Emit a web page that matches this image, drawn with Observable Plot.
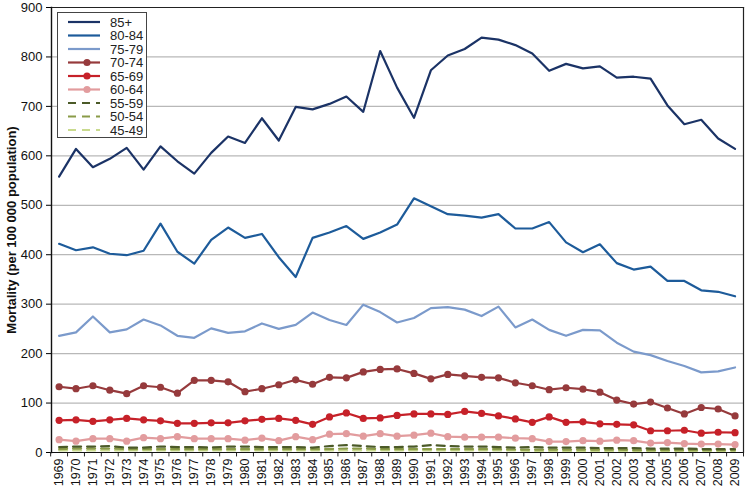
<!DOCTYPE html>
<html>
<head>
<meta charset="utf-8">
<script src="https://cdn.jsdelivr.net/npm/d3@7"></script>
<script src="https://cdn.jsdelivr.net/npm/@observablehq/plot@0.6"></script>
<style>
  html, body { margin: 0; padding: 0; background: #fff; }
  #wrap { position: relative; width: 746px; height: 487px; font-family: "Liberation Sans", Arial, sans-serif; }
  #legend { position: absolute; left: 0; top: 0; pointer-events: none; }
  g[aria-label="y-axis label"] text { font-weight: bold; }
</style>
</head>
<body>
<div id="wrap"></div>
<script>
const years = d3.range(1969, 2010);
const groups = ["85+", "80-84", "75-79", "70-74", "65-69", "60-64", "55-59", "50-54", "45-49"];
const colors = ["#1b3366", "#1d5b9a", "#7b9acb", "#963a3c", "#c62129", "#e29c9e", "#4b5a28", "#8a9b48", "#c9da8e"];
const markers = [false, false, false, true, true, true, false, false, false];
const dashed = [false, false, false, false, false, false, true, true, true];

const v85 = [558, 614, 577, 594, 616, 572, 619, 589, 564, 606, 639, 626, 676, 631, 699, 694, 705, 720, 689, 812, 738, 677, 773, 803, 816, 839, 835, 824, 807, 772, 786, 777, 781, 758, 760, 756, 702, 664, 673, 635, 614];
const v80 = [422, 409, 415, 402, 399, 408, 463, 406, 382, 430, 455, 434, 442, 395, 355, 434, 445, 458, 432, 445, 461, 514, 498, 482, 479, 475, 482, 453, 453, 466, 425, 405, 421, 383, 370, 376, 347, 347, 328, 325, 316];
const v75 = [236, 243, 275, 243, 249, 269, 257, 236, 232, 251, 242, 245, 261, 250, 258, 283, 268, 258, 299, 284, 263, 272, 292, 294, 289, 276, 295, 253, 269, 248, 236, 248, 247, 222, 204, 197, 185, 175, 162, 164, 172];
const v70 = [133, 129, 135, 126, 119, 135, 132, 120, 146, 146, 143, 123, 129, 137, 147, 138, 152, 151, 163, 168, 169, 160, 149, 158, 155, 152, 151, 141, 135, 127, 131, 128, 122, 106, 98, 102, 90, 78, 91, 88, 74];
const v65 = [65, 66, 63, 66, 69, 66, 64, 59, 59, 60, 60, 64, 67, 69, 65, 57, 72, 80, 69, 70, 75, 78, 78, 77, 83, 79, 74, 68, 61, 72, 61, 62, 58, 57, 56, 44, 44, 45, 39, 41, 40];
const v60 = [26, 23, 28, 28, 23, 30, 28, 32, 28, 28, 28, 25, 29, 24, 32, 26, 37, 38, 33, 38, 33, 35, 39, 32, 31, 31, 31, 29, 28, 22, 22, 24, 23, 25, 24, 19, 20, 18, 17, 17, 16];
const v55 = [11, 12, 12, 13, 10, 10, 12, 11, 11, 10, 12, 12, 11, 11, 11, 10, 13, 15, 13, 11, 11, 12, 15, 13, 12, 12, 11, 10, 11, 10, 10, 10, 9, 9, 9, 8, 8, 8, 7, 7, 7];
const v50 = [7, 8, 8, 8, 7, 7, 7, 7, 7, 7, 7, 7, 7, 7, 7, 7, 7, 8, 8, 7, 7, 7, 7, 7, 7, 7, 7, 6, 6, 6, 6, 6, 6, 6, 5, 5, 5, 5, 5, 5, 5];
const v45 = [4, 4, 4, 4, 4, 4, 4, 4, 4, 4, 4, 4, 4, 4, 4, 4, 4, 4, 4, 4, 4, 4, 4, 4, 4, 4, 4, 4, 3, 3, 3, 3, 3, 3, 3, 3, 3, 3, 3, 3, 3];
const series = [v85, v80, v75, v70, v65, v60, v55, v50, v45];
const yTicks = [0, 100, 200, 300, 400, 500, 600, 700, 800, 900];

const rows = [];
groups.forEach((g, i) => series[i].forEach((v, j) => rows.push({group: g, year: years[j], value: v, idx: i})));

const marks = [
  Plot.gridY(yTicks, {stroke: "#b8b8b8", strokeOpacity: 1, strokeWidth: 1.2}),
  Plot.axisY(yTicks, {tickSize: 5, tickPadding: 4, fontSize: 13, fill: "#111",
    label: "Mortality (per 100 000 population)", labelAnchor: "center", labelArrow: "none", labelOffset: 45}),
  Plot.axisX(years, {tickSize: 0, tickRotate: -90, tickPadding: 6, fontSize: 12.5, fill: "#111", tickFormat: d => String(d), label: null}),
  Plot.ruleX(d3.range(1968.5, 2010, 1), {x: d => d, y1: 0, y2: -9, stroke: "#222"}),
  Plot.ruleY([0], {stroke: "#111", strokeWidth: 1.2}),
  Plot.frame({stroke: "#222", strokeWidth: 1.2, anchor: "top"}),
  Plot.frame({stroke: "#222", strokeWidth: 1.2, anchor: "right"}),
  Plot.frame({stroke: "#111", strokeWidth: 1.4, anchor: "left"})
];
for (let i = groups.length - 1; i >= 0; i--) {
  const data = rows.filter(r => r.idx === i);
  marks.push(Plot.line(data, {x: "year", y: "value", stroke: colors[i], strokeWidth: 2.2,
    strokeDasharray: dashed[i] ? "8,6" : null}));
  if (markers[i]) marks.push(Plot.dot(data, {x: "year", y: "value", fill: colors[i], r: 3.6}));
}

const chart = Plot.plot({
  width: 746, height: 487,
  marginTop: 7, marginRight: 3, marginBottom: 35, marginLeft: 51,
  style: {fontFamily: "'Liberation Sans', Arial, sans-serif", background: "#fff", overflow: "visible"},
  x: {domain: [1968.55, 2009.5], axis: null},
  y: {domain: [0, 900], axis: null, clamp: false},
  marks
});
document.getElementById("wrap").appendChild(chart);

// legend overlay
const lg = d3.select("#wrap").append("svg").attr("id", "legend").attr("width", 746).attr("height", 487);
lg.append("rect").attr("x", 57.5).attr("y", 12.5).attr("width", 89).attr("height", 125)
  .attr("fill", "#fff").attr("stroke", "#444").attr("stroke-width", 1);
groups.forEach((g, i) => {
  const y = 22 + i * 13.5;
  lg.append("line").attr("x1", 68).attr("x2", 100).attr("y1", y).attr("y2", y)
    .attr("stroke", colors[i]).attr("stroke-width", 2.2)
    .attr("stroke-dasharray", dashed[i] ? "8,6" : null);
  if (markers[i]) lg.append("circle").attr("cx", 87).attr("cy", y).attr("r", 3.6).attr("fill", colors[i]);
  lg.append("text").attr("x", 110).attr("y", y).attr("dy", "0.35em").attr("font-size", 13)
    .attr("fill", "#222").attr("font-family", "'Liberation Sans', Arial, sans-serif").text(g);
});
</script>
</body>
</html>
